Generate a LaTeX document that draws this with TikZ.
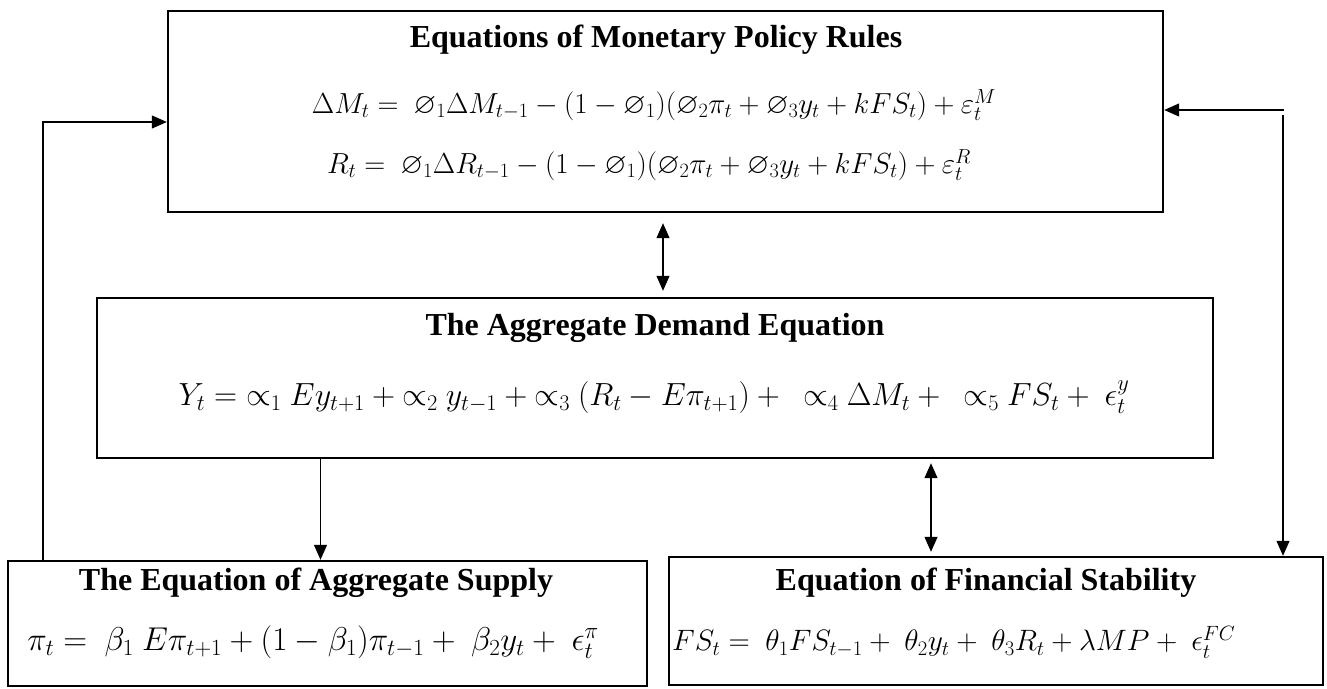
\RequirePackage{fix-cm}
\documentclass[tikz,border=0pt]{standalone}
\usepackage{amsmath,amssymb}
\usepackage{fontspec}
\setmainfont{Liberation Serif}
\DeclareFontFamily{U}{msb}{}
\DeclareFontShape{U}{msb}{m}{n}{<->msbm10}{}
\usetikzlibrary{arrows.meta,calc}

\begin{document}
\begin{tikzpicture}[x=1pt, y=-1pt,
  box/.style={draw, line width=2.4pt, rectangle, inner sep=0pt},
  ar/.style={-{Triangle[length=15pt, width=13pt]}, line width=1.2pt},
  dar/.style={{Triangle[length=15pt, width=13pt]}-{Triangle[length=15pt, width=13pt]}, line width=1.2pt},
  ttl/.style={font=\fontsize{32}{34}\selectfont\bfseries, inner sep=0pt},
  eqn/.style={font=\fontsize{29}{33}\selectfont, inner sep=0pt},
]
\useasboundingbox (0,0) rectangle (1327,688);
% boxes
\node[box, minimum width=995pt, minimum height=201pt] (mpr) at (665.5,111.5) {};
\node[box, minimum width=1116pt, minimum height=160pt] (ad) at (655,378) {};
\node[box, minimum width=639pt, minimum height=125pt] (as) at (327.5,623.5) {};
\node[box, minimum width=654pt, minimum height=128pt] (fs) at (996,621) {};
% contents
\node[ttl] (mprt) at (656,40) {Equations of Monetary Policy Rules};
\node[eqn] (mpr1) at (654,105) {$\Delta M_t =\ \varnothing_1\Delta M_{t-1} - (1-\varnothing_1)(\varnothing_2\pi_t + \varnothing_3 y_t + kFS_t) + \varepsilon_t^M$};
\node[eqn] (mpr2) at (649,165) {$R_t =\ \varnothing_1\Delta R_{t-1} - (1-\varnothing_1)(\varnothing_2\pi_t + \varnothing_3 y_t + kFS_t) + \varepsilon_t^R$};
\node[ttl] (adt) at (655,328) {The Aggregate Demand Equation};
\node[eqn, font=\fontsize{32}{36}\selectfont] (ad1) at (654,397) {$Y_t = {\propto_1}\ Ey_{t+1} + {\propto_2}\ y_{t-1} + {\propto_3}\ (R_t - E\pi_{t+1}) +\ \ {\propto_4}\ \Delta M_t +\ \ {\propto_5}\ FS_t +\ \epsilon_t^y$};
\node[ttl] (ast) at (316,583) {The Equation of Aggregate Supply};
\node[eqn, font=\fontsize{33}{36}\selectfont] (as1) at (313,642) {$\pi_t =\ \beta_1\ E\pi_{t+1} + (1-\beta_1)\pi_{t-1} +\ \beta_2 y_t +\ \epsilon_t^\pi$};
\node[ttl] (fst) at (986,583) {Equation of Financial Stability};
\node[eqn, font=\fontsize{29.5}{33}\selectfont, anchor=west] (fs1) at (672,642) {$FS_t =\ \theta_1 FS_{t-1} +\ \theta_2 y_t +\ \theta_3 R_t + \lambda MP +\ \epsilon_t^{FC}$};
% connectors
\coordinate (lc) at (43,122);
\coordinate (rc) at (1284,110);
\coordinate (rv) at (1283,115);
\coordinate (jx) at (931,0);
\draw[ar] (lc |- as.north) -- (lc) -- (lc -| mpr.west);
\draw[ar] (rc) -- (rc -| mpr.east);
\draw[ar] (rv) -- (rv |- fs.north);
\draw[dar, shorten <=10pt, shorten >=6pt] (663,0 |- mpr.south) -- (663,0 |- ad.north);
\draw[ar] ([xshift=-7pt]as.north |- ad.south) -- ([xshift=-7pt]as.north);
\draw[dar, shorten <=4pt, shorten >=4pt] (jx |- ad.south) -- (jx |- fs.north);
\end{tikzpicture}
\end{document}
